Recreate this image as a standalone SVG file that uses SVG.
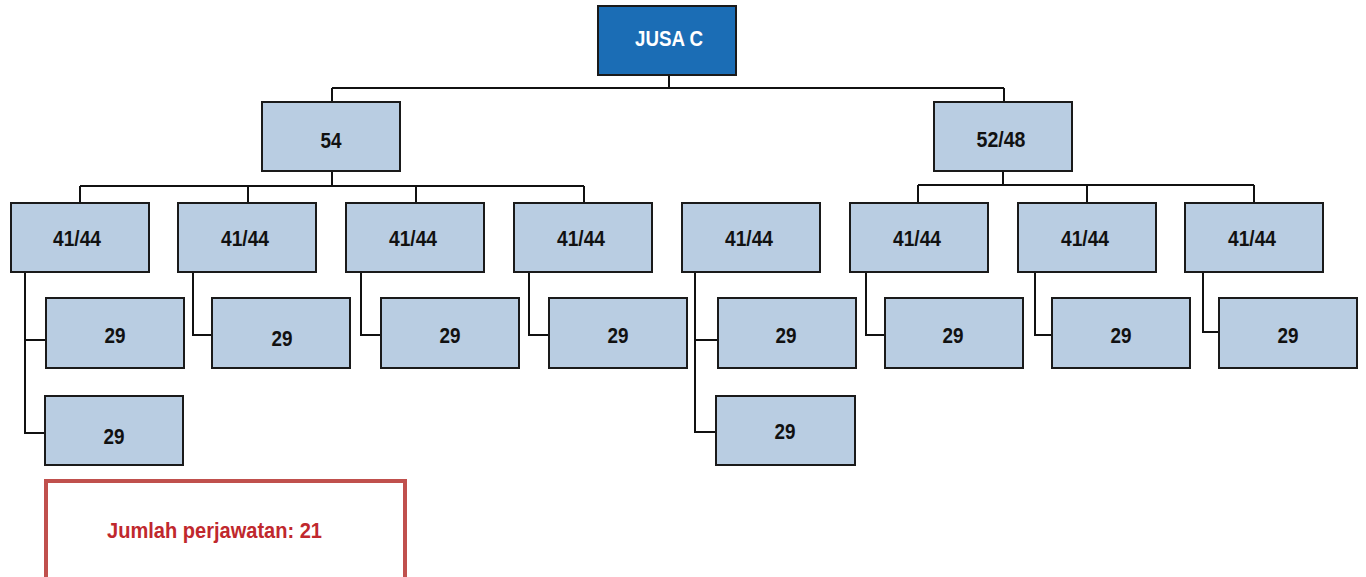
<svg xmlns="http://www.w3.org/2000/svg" width="1366" height="577" viewBox="0 0 1366 577">
<style>
.n{fill:#b9cde2;stroke:#1a1a1a;stroke-width:2}
.top{fill:#1b6db5;stroke:#1a1a1a;stroke-width:2}
.t{font-family:"Liberation Sans",Arial,sans-serif;font-weight:bold;font-size:22px;fill:#111;text-anchor:middle}
.tw{fill:#fff}
.c{fill:none;stroke:#111;stroke-width:2}
</style>
<rect width="1366" height="577" fill="#fff"/>
<g id="connectors">
<path class="c" d="M669,75V88M332,88H1004M332,88V102M1004,88V102"/>
<path class="c" d="M332,171V186M80,186H584M80,186V203M248,186V203M416,186V203M584,186V203"/>
<path class="c" d="M1003,171V185M918,185H1254M918,185V203M1087,185V203M1254,185V203"/>
<path class="c" d="M25,272V433H45M25,340H46"/>
<path class="c" d="M193,272V335H212"/>
<path class="c" d="M361,272V335H381"/>
<path class="c" d="M529,272V335H549"/>
<path class="c" d="M695,272V432H716M695,340H718"/>
<path class="c" d="M866,272V335H885"/>
<path class="c" d="M1035,272V335H1052"/>
<path class="c" d="M1203,272V332H1219"/>
</g>
<g id="root"><rect class="top" x="598" y="6" width="138" height="69"/><text class="t tw" x="669" y="46" textLength="68" lengthAdjust="spacingAndGlyphs">JUSA C</text></g>
<g id="n54"><rect class="n" x="262" y="102" width="138" height="69"/><text class="t" x="331" y="148" textLength="21" lengthAdjust="spacingAndGlyphs">54</text></g>
<g id="n5248"><rect class="n" x="934" y="102" width="138" height="69"/><text class="t" x="1001" y="147" textLength="49" lengthAdjust="spacingAndGlyphs">52/48</text></g>
<g id="a1"><rect class="n" x="11" y="203" width="138" height="69"/><text class="t" x="77" y="246" textLength="48" lengthAdjust="spacingAndGlyphs">41/44</text></g>
<g id="a2"><rect class="n" x="178" y="203" width="138" height="69"/><text class="t" x="245" y="246" textLength="48" lengthAdjust="spacingAndGlyphs">41/44</text></g>
<g id="a3"><rect class="n" x="346" y="203" width="138" height="69"/><text class="t" x="413" y="246" textLength="48" lengthAdjust="spacingAndGlyphs">41/44</text></g>
<g id="a4"><rect class="n" x="514" y="203" width="138" height="69"/><text class="t" x="581" y="246" textLength="48" lengthAdjust="spacingAndGlyphs">41/44</text></g>
<g id="a5"><rect class="n" x="682" y="203" width="138" height="69"/><text class="t" x="749" y="246" textLength="48" lengthAdjust="spacingAndGlyphs">41/44</text></g>
<g id="a6"><rect class="n" x="850" y="203" width="138" height="69"/><text class="t" x="917" y="246" textLength="48" lengthAdjust="spacingAndGlyphs">41/44</text></g>
<g id="a7"><rect class="n" x="1018" y="203" width="138" height="69"/><text class="t" x="1085" y="246" textLength="48" lengthAdjust="spacingAndGlyphs">41/44</text></g>
<g id="a8"><rect class="n" x="1185" y="203" width="138" height="69"/><text class="t" x="1252" y="246" textLength="48" lengthAdjust="spacingAndGlyphs">41/44</text></g>
<g id="b1"><rect class="n" x="46" y="298" width="138" height="70"/><text class="t" x="115" y="343" textLength="21" lengthAdjust="spacingAndGlyphs">29</text></g>
<g id="b2"><rect class="n" x="212" y="298" width="138" height="70"/><text class="t" x="282" y="346" textLength="21" lengthAdjust="spacingAndGlyphs">29</text></g>
<g id="b3"><rect class="n" x="381" y="298" width="138" height="70"/><text class="t" x="450" y="343" textLength="21" lengthAdjust="spacingAndGlyphs">29</text></g>
<g id="b4"><rect class="n" x="549" y="298" width="138" height="70"/><text class="t" x="618" y="343" textLength="21" lengthAdjust="spacingAndGlyphs">29</text></g>
<g id="b5"><rect class="n" x="718" y="298" width="138" height="70"/><text class="t" x="786" y="343" textLength="21" lengthAdjust="spacingAndGlyphs">29</text></g>
<g id="b6"><rect class="n" x="885" y="298" width="138" height="70"/><text class="t" x="953" y="343" textLength="21" lengthAdjust="spacingAndGlyphs">29</text></g>
<g id="b7"><rect class="n" x="1052" y="298" width="138" height="70"/><text class="t" x="1121" y="343" textLength="21" lengthAdjust="spacingAndGlyphs">29</text></g>
<g id="b8"><rect class="n" x="1219" y="298" width="138" height="70"/><text class="t" x="1288" y="343" textLength="21" lengthAdjust="spacingAndGlyphs">29</text></g>
<g id="c1"><rect class="n" x="45" y="396" width="138" height="69"/><text class="t" x="114" y="444" textLength="21" lengthAdjust="spacingAndGlyphs">29</text></g>
<g id="c5"><rect class="n" x="716" y="396" width="139" height="69"/><text class="t" x="785" y="439" textLength="21" lengthAdjust="spacingAndGlyphs">29</text></g>
<g id="total"><rect x="46" y="481" width="359" height="110" fill="#fff" stroke="#c0504d" stroke-width="4"/><text x="107" y="538" font-family="Liberation Sans,Arial,sans-serif" font-weight="bold" font-size="22" fill="#c0282d" textLength="215" lengthAdjust="spacingAndGlyphs">Jumlah perjawatan: 21</text></g>
</svg>
